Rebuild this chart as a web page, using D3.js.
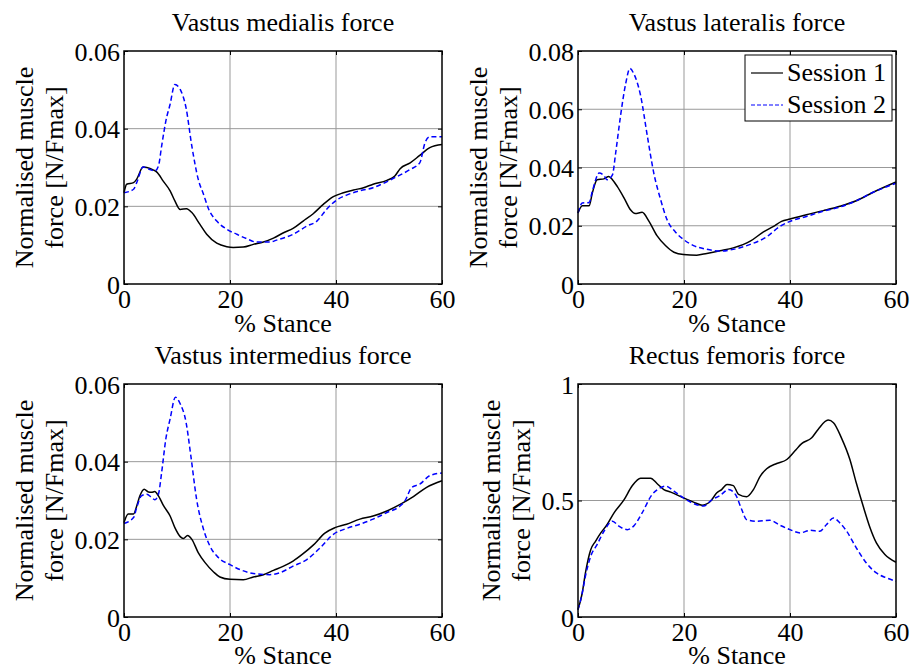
<!DOCTYPE html>
<html>
<head>
<meta charset="utf-8">
<script src="https://cdn.jsdelivr.net/npm/d3@7"></script>
<style>
body { margin: 0; background: #fff; }
text { font-family: "Liberation Serif", "Times New Roman", serif; fill: #000; }
</style>
</head>
<body>
<div id="chart"></div>
<script>
// data: [% stance, normalised force]
var vmSession1 = [[0,0.0235],[0.5,0.0257],[1.8,0.0261],[2.4,0.027],[3.6,0.0301],[4.3,0.030],[5.5,0.0294],[6.2,0.0288],[7.4,0.0265],[8.7,0.024],[9.6,0.0214],[10.6,0.0192],[11.8,0.0194],[12.8,0.0184],[14.3,0.0154],[15.6,0.0128],[17.5,0.0105],[19.4,0.0096],[20.6,0.0094],[22.5,0.0095],[24.4,0.0102],[26.3,0.0108],[28.2,0.0118],[30.1,0.0132],[31.9,0.0143],[33.8,0.0162],[35.7,0.0181],[37.6,0.0205],[39.5,0.0225],[41.4,0.0235],[43.3,0.0242],[45.2,0.0248],[47.0,0.0257],[49.6,0.0267],[51.1,0.0278],[52.1,0.0297],[54.0,0.0312],[55.8,0.0331],[57.7,0.0351],[60,0.0359]];
var vmSession2 = [[0,0.0235],[1.8,0.0244],[2.4,0.0261],[3.6,0.0301],[4.9,0.0295],[5.8,0.0291],[6.5,0.0304],[7.1,0.0355],[7.9,0.042],[8.7,0.0463],[9.6,0.0514],[10.6,0.0501],[11.7,0.0454],[12.8,0.0355],[14.0,0.027],[15.0,0.0231],[16.0,0.0192],[17.5,0.0162],[19.4,0.0141],[21.3,0.0128],[23.1,0.0117],[25.0,0.0108],[27.5,0.0108],[28.8,0.0113],[31.9,0.0128],[34.5,0.0149],[36.4,0.0162],[38.2,0.0192],[40.1,0.0216],[42.0,0.0229],[44.5,0.024],[47.0,0.0248],[48.9,0.0259],[51.4,0.0276],[54.0,0.0295],[55.8,0.0312],[56.8,0.0364],[57.7,0.0379],[60,0.0379]];

var vlSession1 = [[0,0.0244],[0.8,0.0269],[2.1,0.0269],[2.7,0.0312],[3.6,0.0358],[4.9,0.0361],[5.8,0.0369],[6.5,0.0358],[7.4,0.0335],[8.7,0.0295],[9.9,0.0255],[10.8,0.0242],[12.1,0.0246],[13.4,0.0215],[14.9,0.0166],[16.5,0.0132],[18.1,0.0109],[19.9,0.0101],[22.4,0.0099],[24.3,0.0105],[26.8,0.0114],[29.3,0.0124],[32.5,0.0147],[35.0,0.0179],[36.9,0.0198],[38.4,0.0215],[40.0,0.0223],[43.1,0.0238],[46.3,0.0252],[49.4,0.0267],[52.5,0.0286],[55.7,0.0315],[60,0.035]];
var vlSession2 = [[0,0.0244],[0.8,0.0278],[2.1,0.028],[2.7,0.0318],[4.0,0.0381],[4.9,0.0372],[5.5,0.0358],[6.5,0.0375],[7.1,0.0449],[8.0,0.0574],[9.0,0.0688],[9.8,0.074],[10.5,0.0723],[11.8,0.0648],[13.1,0.0506],[14.3,0.0381],[15.6,0.0289],[16.8,0.0221],[18.4,0.0178],[19.9,0.0153],[21.8,0.0132],[24.3,0.0119],[26.8,0.0113],[29.3,0.0119],[32.5,0.0136],[35.6,0.0162],[38.1,0.0198],[40.0,0.0215],[43.1,0.0232],[46.3,0.025],[49.4,0.0264],[52.5,0.0286],[55.7,0.0315],[60,0.0346]];

var viSession1 = [[0,0.0243],[0.8,0.0265],[1.8,0.0265],[2.4,0.0286],[3.0,0.0312],[3.8,0.0329],[4.6,0.0322],[5.2,0.0321],[5.8,0.0323],[6.5,0.0312],[7.4,0.0288],[8.7,0.026],[9.6,0.023],[10.6,0.0207],[11.2,0.0202],[12.0,0.021],[12.8,0.02],[14.0,0.0166],[15.3,0.014],[16.9,0.0116],[18.1,0.0103],[20.0,0.0097],[22.5,0.0096],[24.4,0.0103],[26.3,0.0109],[28.2,0.012],[30.1,0.0131],[31.9,0.0144],[33.8,0.0163],[35.7,0.0185],[37.9,0.0216],[39.8,0.023],[42.0,0.0239],[44.5,0.0252],[47.0,0.026],[49.6,0.0273],[52.1,0.029],[54.6,0.031],[57.1,0.0334],[60,0.0351]];
var viSession2 = [[0,0.0241],[1.8,0.0256],[2.4,0.0282],[3.3,0.0312],[4.3,0.0316],[5.2,0.0308],[5.8,0.0302],[6.5,0.0316],[7.1,0.0372],[7.9,0.0459],[8.7,0.051],[9.7,0.0566],[10.6,0.0549],[11.7,0.0502],[12.6,0.0416],[13.7,0.0303],[15.0,0.0226],[16.2,0.0183],[17.8,0.0153],[20.0,0.0135],[21.9,0.0122],[24.4,0.0112],[27.5,0.0109],[29.4,0.0114],[31.9,0.0131],[34.5,0.0148],[37.0,0.0178],[39.5,0.0213],[42.0,0.0228],[44.5,0.0239],[47.0,0.0252],[49.6,0.0269],[52.1,0.0286],[53.0,0.0299],[54.3,0.0334],[55.8,0.0342],[57.7,0.0364],[60,0.0371]];

var rfSession1 = [[0,0.0315],[0.8,0.103],[1.4,0.189],[2.4,0.289],[3.3,0.325],[4.3,0.361],[5.5,0.397],[6.8,0.447],[8.7,0.504],[10.2,0.562],[11.8,0.596],[13.7,0.596],[14.9,0.573],[16.2,0.547],[17.5,0.536],[19.9,0.511],[21.8,0.493],[23.4,0.48],[25.0,0.497],[26.2,0.533],[27.1,0.547],[28.1,0.569],[29.3,0.564],[30.3,0.526],[31.8,0.516],[33.1,0.547],[34.4,0.605],[35.6,0.636],[37.5,0.659],[39.4,0.676],[40.9,0.712],[42.2,0.744],[44.1,0.769],[45.3,0.805],[47.2,0.845],[48.2,0.834],[49.7,0.769],[51.3,0.676],[52.5,0.576],[53.8,0.476],[55.0,0.39],[56.3,0.318],[57.9,0.268],[60,0.235]];
var rfSession2 = [[0,0.0315],[0.8,0.103],[1.4,0.175],[2.4,0.261],[3.6,0.311],[4.9,0.368],[6.5,0.411],[7.7,0.39],[9.3,0.375],[10.5,0.39],[12.1,0.447],[14.0,0.526],[15.2,0.55],[16.5,0.562],[18.1,0.54],[19.9,0.511],[21.8,0.487],[23.7,0.476],[25.3,0.504],[26.8,0.521],[28.4,0.547],[29.7,0.526],[30.9,0.461],[31.8,0.418],[33.7,0.411],[36.2,0.415],[38.1,0.394],[40.0,0.375],[41.9,0.361],[43.8,0.372],[45.6,0.368],[46.9,0.397],[48.2,0.425],[49.4,0.404],[50.7,0.368],[52.5,0.297],[54.4,0.232],[56.3,0.189],[58.2,0.168],[60,0.153]];

var stanceTicks = [0, 20, 40, 60];
var vmTicks = [0, 0.02, 0.04, 0.06];
var vlTicks = [0, 0.02, 0.04, 0.06, 0.08];
var viTicks = [0, 0.02, 0.04, 0.06];
var rfTicks = [0, 0.5, 1];
var sessionNames = ["Session 1", "Session 2"];

var width = 911, height = 671;
var fontSize = 26;
var serif = '"Liberation Serif", "Times New Roman", Times, serif';

var panels = [
  { title: "Vastus medialis force", s1: vmSession1, s2: vmSession2, ticks: vmTicks, left: 124, top: 51, legend: false },
  { title: "Vastus lateralis force", s1: vlSession1, s2: vlSession2, ticks: vlTicks, left: 578, top: 51, legend: true },
  { title: "Vastus intermedius force", s1: viSession1, s2: viSession2, ticks: viTicks, left: 124, top: 384, legend: false },
  { title: "Rectus femoris force", s1: rfSession1, s2: rfSession2, ticks: rfTicks, left: 578, top: 384, legend: false }
];
var plotW = 318, plotH = 233;
var fmt = d3.format("~g");

var svg = d3.select("#chart")
  .append("svg")
  .attr("width", width)
  .attr("height", height)
  .style("background", "#fff");

panels.forEach(function(p) {
  var g = svg.append("g")
    .attr("transform", `translate(${p.left}, ${p.top})`);

  var x = d3.scaleLinear().domain([0, 60]).range([0, plotW]);
  var y = d3.scaleLinear().domain([0, d3.max(p.ticks)]).range([plotH, 0]);

  // grid
  g.append("g").selectAll("line")
    .data(stanceTicks.slice(1, -1))
    .enter().append("line")
    .attr("x1", d => x(d)).attr("x2", d => x(d))
    .attr("y1", 0).attr("y2", plotH)
    .attr("stroke", "#999").attr("stroke-width", 1);
  g.append("g").selectAll("line")
    .data(p.ticks.slice(1, -1))
    .enter().append("line")
    .attr("x1", 0).attr("x2", plotW)
    .attr("y1", d => y(d)).attr("y2", d => y(d))
    .attr("stroke", "#999").attr("stroke-width", 1);

  // axes, ticks inward on all four sides
  var bottomAxis = d3.axisBottom(x).tickValues(stanceTicks).tickFormat(fmt).tickSizeInner(-4).tickSizeOuter(0);
  var topAxis = d3.axisTop(x).tickValues(stanceTicks).tickSizeInner(-4).tickSizeOuter(0).tickFormat("");
  var leftAxis = d3.axisLeft(y).tickValues(p.ticks).tickFormat(fmt).tickSizeInner(-4).tickSizeOuter(0);
  var rightAxis = d3.axisRight(y).tickValues(p.ticks).tickSizeInner(-4).tickSizeOuter(0).tickFormat("");

  var xAxis = g.append("g").attr("transform", `translate(0, ${plotH})`).call(bottomAxis);
  g.append("g").call(topAxis);
  var yAxis = g.append("g").call(leftAxis);
  g.append("g").attr("transform", `translate(${plotW}, 0)`).call(rightAxis);

  g.selectAll(".domain").remove();
  g.selectAll(".tick line").attr("stroke", "#000");
  g.selectAll(".tick text")
    .style("font-family", serif)
    .style("font-size", fontSize + "px")
    .attr("fill", "#000");
  xAxis.selectAll(".tick text").attr("dy", null).attr("y", 24);
  yAxis.selectAll(".tick text").attr("x", -4).attr("dy", "0.35em");

  // curves
  var line = d3.line()
    .x(d => x(d[0]))
    .y(d => y(d[1]))
    .curve(d3.curveMonotoneX);

  g.append("path")
    .datum(p.s1)
    .attr("d", line)
    .attr("fill", "none")
    .attr("stroke", "#000")
    .attr("stroke-width", 1.5);

  g.append("path")
    .datum(p.s2)
    .attr("d", line)
    .attr("fill", "none")
    .attr("stroke", "#0000ff")
    .attr("stroke-width", 1.5)
    .attr("stroke-dasharray", "5,3");

  // box
  g.append("rect")
    .attr("width", plotW).attr("height", plotH)
    .attr("fill", "none")
    .attr("stroke", "#000")
    .attr("stroke-width", 1.5);

  // title
  g.append("text")
    .attr("x", plotW / 2)
    .attr("y", -20)
    .attr("text-anchor", "middle")
    .style("font-family", serif)
    .style("font-size", fontSize + "px")
    .text(p.title);

  // x label (kept inside the page at the bottom row)
  g.append("text")
    .attr("x", plotW / 2)
    .attr("y", Math.min(plotH + 48, height - p.top - 7))
    .attr("text-anchor", "middle")
    .style("font-family", serif)
    .style("font-size", fontSize + "px")
    .text("% Stance");

  // y label, two lines, placed next to the widest tick label
  var maxW = 0;
  yAxis.selectAll(".tick text").each(function() {
    maxW = Math.max(maxW, this.getComputedTextLength());
  });
  var line2X = -4 - maxW - 12;
  var yLabel = g.append("g")
    .attr("transform", `translate(0, ${plotH / 2}) rotate(-90)`);
  yLabel.append("text")
    .attr("x", 0).attr("y", line2X - 30)
    .attr("text-anchor", "middle")
    .style("font-family", serif)
    .style("font-size", fontSize + "px")
    .text("Normalised muscle");
  yLabel.append("text")
    .attr("x", 0).attr("y", line2X)
    .attr("text-anchor", "middle")
    .style("font-family", serif)
    .style("font-size", fontSize + "px")
    .text("force [N/Fmax]");

  if (p.legend) {
    var lg = g.append("g").attr("transform", `translate(${plotW - 151}, 4)`);
    lg.append("rect")
      .attr("width", 147).attr("height", 66)
      .attr("fill", "#fff")
      .attr("stroke", "#000")
      .attr("stroke-width", 1);
    var styles = [{ c: "#000", dash: null }, { c: "#0000ff", dash: "4,2" }];
    sessionNames.forEach(function(name, i) {
      lg.append("line")
        .attr("x1", 6).attr("x2", 38)
        .attr("y1", 18 + i * 32).attr("y2", 18 + i * 32)
        .attr("stroke", styles[i].c)
        .attr("stroke-width", 1.2)
        .attr("stroke-dasharray", styles[i].dash);
      lg.append("text")
        .attr("x", 42)
        .attr("y", 26 + i * 32)
        .style("font-family", serif)
        .style("font-size", fontSize + "px")
        .text(name);
    });
  }
});
</script>
</body>
</html>
